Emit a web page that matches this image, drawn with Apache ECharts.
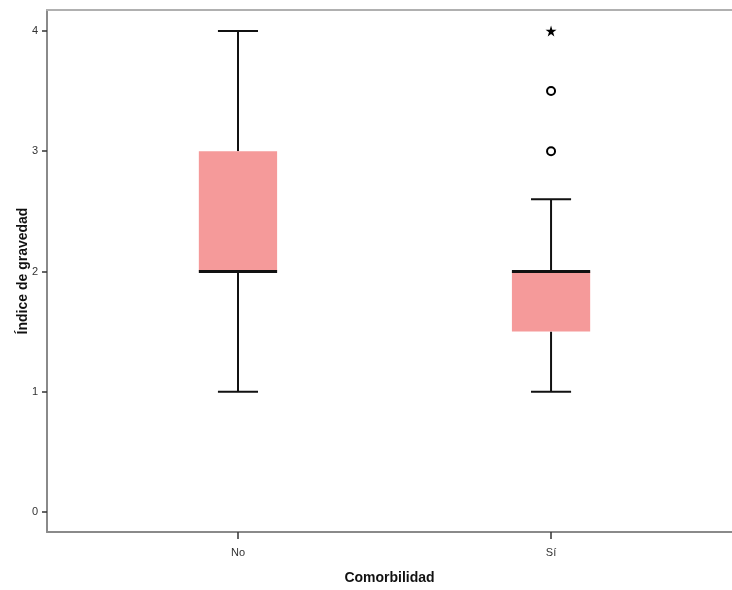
<!DOCTYPE html>
<html>
<head>
<meta charset="utf-8">
<script src="https://cdn.jsdelivr.net/npm/echarts@6/dist/echarts.min.js"></script>
<style>html,body{margin:0;padding:0;background:#fff}#c{width:732px;height:590px}</style>
</head>
<body>
<div id="c"></div>
<script>
var categories = ['No', 'Sí'];
var categoryPositions = [1, 2];
var minValues = [1, 1];
var q1Values = [2, 1.5];
var medianValues = [2, 2];
var q3Values = [3, 2];
var maxValues = [4, 2.6];
var outlierPoints = [[2, 3.5], [2, 3.0]];
var extremePoints = [[2, 4]];
var yTicks = [0, 1, 2, 3, 4];

var boxData = categoryPositions.map(function (x, i) {
  return [x, minValues[i], q1Values[i], medianValues[i], q3Values[i], maxValues[i]];
});

var chart = echarts.init(document.getElementById('c'));
var starPath = 'path://M50,0 L61,35 L98,35 L68,57 L79,91 L50,70 L21,91 L32,57 L2,35 L39,35 Z';

chart.setOption({
  backgroundColor: '#ffffff',
  animation: false,
  grid: { left: 47, right: 0, top: 10, bottom: 57 },
  xAxis: [{
    type: 'value',
    min: 0.39,
    max: 2.578,
    position: 'bottom',
    name: 'Comorbilidad',
    nameLocation: 'middle',
    nameGap: 39,
    nameTextStyle: { fontFamily: 'Liberation Sans, Arial, sans-serif', fontWeight: 'bold', fontSize: 14, color: '#111' },
    axisLine: { show: true, onZero: false, lineStyle: { color: '#8a8a8a', width: 2 } },
    axisTick: { show: true, customValues: categoryPositions, length: 7, lineStyle: { color: '#333', width: 1.5 } },
    axisLabel: {
      customValues: categoryPositions,
      formatter: function (v) { var i = categoryPositions.indexOf(v); return i >= 0 ? categories[i] : ''; },
      fontFamily: 'Liberation Sans, Arial, sans-serif', fontSize: 11, color: '#333', margin: 15
    },
    splitLine: { show: false }
  }, {
    type: 'value',
    min: 0.39,
    max: 2.578,
    position: 'top',
    axisLine: { show: true, onZero: false, lineStyle: { color: '#b0b0b0', width: 2 } },
    axisTick: { show: false },
    axisLabel: { show: false },
    splitLine: { show: false }
  }],
  yAxis: {
    type: 'value',
    min: -0.166,
    max: 4.174,
    name: 'Índice de gravedad',
    nameLocation: 'middle',
    nameGap: 17,
    nameMoveOverlap: false,
    nameTextStyle: { fontFamily: 'Liberation Sans, Arial, sans-serif', fontWeight: 'bold', fontSize: 14, color: '#111' },
    axisLine: { show: true, onZero: false, lineStyle: { color: '#8a8a8a', width: 2 } },
    axisTick: { show: true, customValues: yTicks, length: 5, lineStyle: { color: '#333', width: 1.5 } },
    axisLabel: {
      customValues: yTicks,
      fontFamily: 'Liberation Sans, Arial, sans-serif', fontSize: 11, color: '#333', margin: 9
    },
    splitLine: { show: false }
  },
  series: [{
    type: 'custom',
    xAxisIndex: 0,
    data: boxData,
    renderItem: function (params, api) {
      var x = api.value(0);
      var pMin = api.coord([x, api.value(1)]);
      var pQ1 = api.coord([x, api.value(2)]);
      var pMed = api.coord([x, api.value(3)]);
      var pQ3 = api.coord([x, api.value(4)]);
      var pMax = api.coord([x, api.value(5)]);
      var boxW = api.size([0.25, 0])[0];
      var capW = api.size([0.128, 0])[0];
      var cx = pMed[0];
      var lineStyle = { stroke: '#111', lineWidth: 2 };
      return {
        type: 'group',
        children: [
          { type: 'line', shape: { x1: cx, y1: pQ3[1], x2: cx, y2: pMax[1] }, style: lineStyle },
          { type: 'line', shape: { x1: cx, y1: pQ1[1], x2: cx, y2: pMin[1] }, style: lineStyle },
          { type: 'line', shape: { x1: cx - capW / 2, y1: pMax[1], x2: cx + capW / 2, y2: pMax[1] }, style: lineStyle },
          { type: 'line', shape: { x1: cx - capW / 2, y1: pMin[1], x2: cx + capW / 2, y2: pMin[1] }, style: lineStyle },
          { type: 'rect', shape: { x: cx - boxW / 2, y: pQ3[1], width: boxW, height: pQ1[1] - pQ3[1] }, style: { fill: '#F59A9A', stroke: null } },
          { type: 'line', shape: { x1: cx - boxW / 2, y1: pMed[1], x2: cx + boxW / 2, y2: pMed[1] }, style: { stroke: '#111', lineWidth: 3 } }
        ]
      };
    }
  }, {
    type: 'scatter',
    data: outlierPoints,
    symbol: 'circle',
    symbolSize: 8,
    itemStyle: { color: '#fff', borderColor: '#000', borderWidth: 2, opacity: 1 }
  }, {
    type: 'scatter',
    data: extremePoints,
    symbol: starPath,
    symbolSize: 11,
    itemStyle: { color: '#000', opacity: 1 }
  }]
});
</script>
</body>
</html>
